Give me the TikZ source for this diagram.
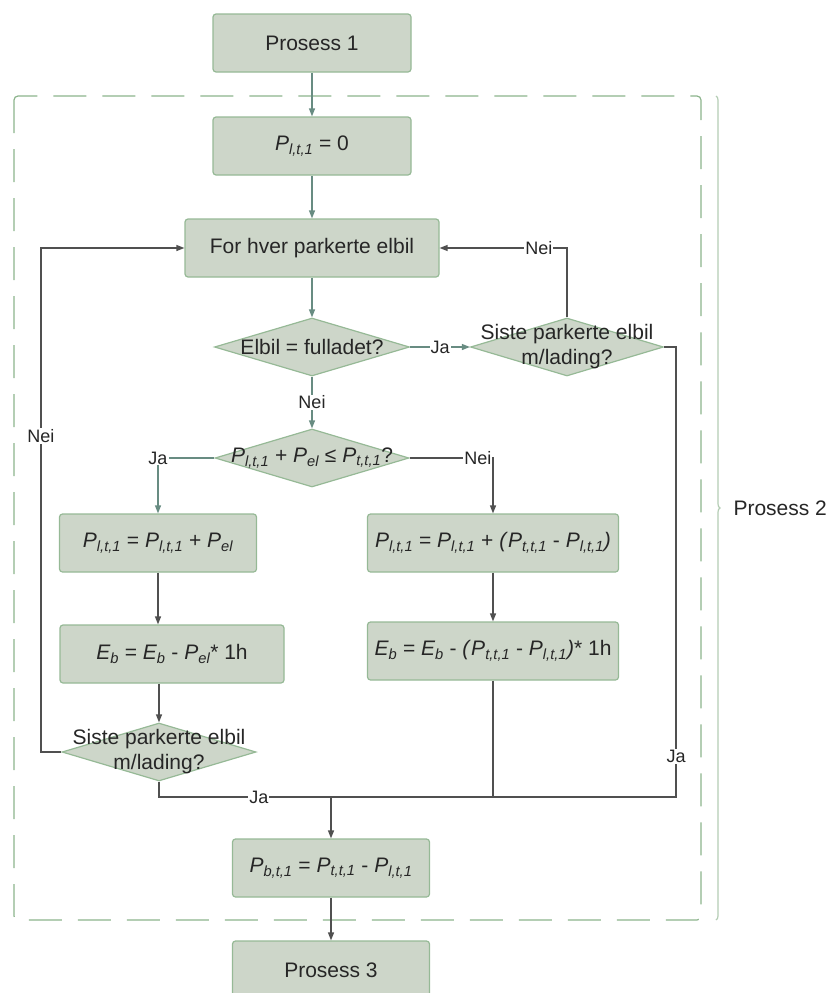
\documentclass[tikz,border=0pt]{standalone}
\usepackage{fontspec}
\setmainfont{Liberation Sans}
\usetikzlibrary{arrows.meta,shapes.geometric,decorations.pathreplacing}

\definecolor{boxfill}{RGB}{205,214,201}
\definecolor{boxedge}{RGB}{150,185,150}
\definecolor{flowgreen}{RGB}{104,140,130}
\definecolor{flowgrey}{RGB}{80,80,80}
\definecolor{framegreen}{RGB}{140,180,140}
\definecolor{bracegreen}{RGB}{180,205,180}

\newcommand{\Pv}[1]{\textit{P\textsubscript{#1}}}
\newcommand{\Eb}{\textit{E\textsubscript{b}}}

\begin{document}
\begin{tikzpicture}[x=1pt, y=-1pt,
  every node/.style={font=\fontsize{21}{25}\selectfont, text=black!85},
  process/.style={draw=boxedge, fill=boxfill, line width=1.2pt, rounded corners=3pt, minimum height=58pt, inner sep=0pt},
  decision/.style={diamond, draw=boxedge, fill=boxfill, line width=1.2pt, minimum width=195pt, minimum height=58pt, inner sep=0pt},
  flow/.style={draw=flowgreen, line width=1.3pt, -{Triangle[length=8pt,width=6pt]}},
  wire/.style={draw=flowgrey, line width=1.3pt},
  wirearrow/.style={wire, -{Triangle[length=8pt,width=6pt]}},
  lbl/.style={fill=white, inner sep=1pt, font=\fontsize{18}{21}\selectfont}]
\useasboundingbox (0,0) rectangle (828,993);

% frame and brace of process 2
\draw[framegreen, line width=1.2pt, dash pattern=on 33pt off 16pt, rounded corners=4pt] (14,96) rectangle (701,920);
\draw[bracegreen, line width=1.2pt, decorate, decoration={brace, amplitude=4pt}] (716,96) -- (716,920);
\node[anchor=west] (p2) at (730,508) {Prosess 2};

% boxes
\node[process, minimum width=198pt] (p1) at (312,43) {Prosess 1};
\node[process, minimum width=198pt] (pzero) at (312,146) {\Pv{l,t,1} = 0};
\node[process, minimum width=254pt] (each) at (312,248) {For hver parkerte elbil};
\node[decision, label={center:Elbil = fulladet?}] (full) at (312,347) {};
\node[decision, minimum width=193pt, label={[align=center]center:Siste parkerte elbil\\m/lading?}] (lastR) at (567,347) {};
\node[decision, minimum width=194pt, label={center:\Pv{l,t,1} + \Pv{el} ≤ \Pv{t,t,1}?}] (fits) at (312,458) {};
\node[process, minimum width=197pt] (addall) at (158,543) {\Pv{l,t,1} = \Pv{l,t,1} + \Pv{el}};
\node[process, minimum width=224pt] (eball) at (172,654) {\Eb{} = \Eb{} - \Pv{el}* 1h};
\node[process, minimum width=251pt] (addrest) at (493,543) {\Pv{l,t,1} = \Pv{l,t,1} + \textit{(}\Pv{t,t,1} - \Pv{l,t,1}\textit{)}};
\node[process, minimum width=251pt] (ebrest) at (493,651) {\Eb{} = \Eb{} - \textit{(}\Pv{t,t,1} - \Pv{l,t,1}\textit{)}* 1h};
\node[decision, minimum width=194pt, label={[align=center]center:Siste parkerte elbil\\m/lading?}] (lastL) at (159,752) {};
\node[process, minimum width=197pt] (pb) at (331,868) {\Pv{b,t,1} = \Pv{t,t,1} - \Pv{l,t,1}};
\node[process, minimum width=197pt] (p3) at (331,970) {Prosess 3};

\coordinate (join) at (331,797);
\coordinate (joinR) at (676,797);
\coordinate (loopL) at (41,436);

% connectors
\draw[flow] (p1) -- (pzero);
\draw[flow] (pzero) -- (each);
\draw[flow] (each) -- (full);
\draw[flow] (full) -- node[lbl] {Ja} (lastR);
\draw[flow] (full) -- node[lbl] {Nei} (fits);
\draw[flow] (fits.west) -| node[lbl] {Ja} (addall.north);
\draw[wirearrow] (fits.east) -| node[lbl, anchor=east] {Nei} (addrest.north);
\draw[wirearrow] (addall) -- (addall.south |- eball.north);
\draw[wirearrow] (lastL.north |- eball.south) -- (lastL);
\draw[wirearrow] (addrest) -- (ebrest);
\draw[wirearrow] (lastL.west) -| (loopL) node[lbl] {Nei} |- (each.west);
\draw[wirearrow] (lastR.north) |- node[lbl, pos=0.61] {Nei} (each.east);
\draw[wire] (lastR.east) -| node[lbl, pos=0.955] {Ja} (joinR) -- (join);
\draw[wire] (lastL.south) |- node[lbl, pos=0.79] {Ja} (join);
\draw[wire] (ebrest) -- (ebrest.south |- join);
\draw[wirearrow] (join) -- (pb);
\draw[wirearrow] (pb) -- (p3);
\end{tikzpicture}
\end{document}
